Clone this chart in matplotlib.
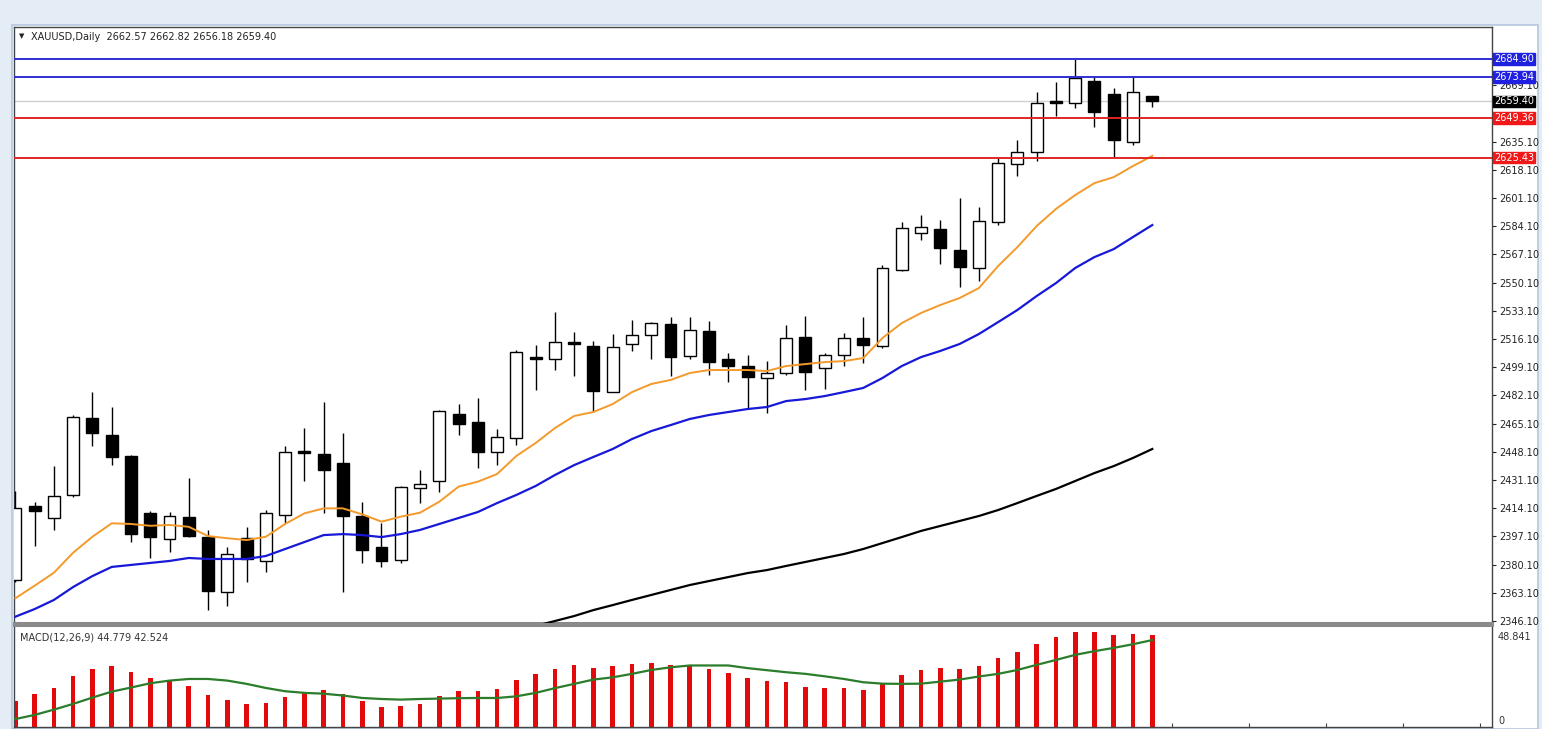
import numpy as np
import matplotlib.pyplot as plt
from matplotlib.patches import Rectangle
from matplotlib.transforms import blended_transform_factory

# --- daily candles XAUUSD ---
opens = [2370.8, 2415.4, 2408.0, 2422.0, 2468.6, 2458.0, 2445.6, 2411.0, 2395.7, 2409.0,
         2396.5, 2363.8, 2396.0, 2382.4, 2410.0, 2448.8, 2446.8, 2441.5, 2409.4, 2390.9,
         2382.9, 2426.4, 2430.7, 2470.9, 2466.2, 2448.0, 2456.6, 2505.4, 2503.8, 2514.5,
         2511.9, 2484.1, 2513.1, 2518.5, 2525.1, 2505.8, 2521.1, 2504.0, 2499.8, 2492.8,
         2495.8, 2517.1, 2498.4, 2506.4, 2516.5, 2511.9, 2557.7, 2580.2, 2582.2, 2569.7,
         2559.1, 2586.4, 2621.4, 2629.0, 2659.5, 2658.2, 2671.8, 2663.8, 2634.6, 2662.57]
highs = [2424.5, 2418.0, 2439.7, 2470.3, 2484.0, 2475.3, 2446.0, 2412.4, 2412.0, 2432.5,
         2401.0, 2390.9, 2402.9, 2413.0, 2451.6, 2462.6, 2478.3, 2459.2, 2418.0, 2405.0,
         2427.5, 2437.1, 2473.3, 2476.9, 2480.3, 2462.0, 2509.4, 2512.5, 2532.5, 2520.5,
         2515.0, 2519.1, 2527.5, 2526.5, 2529.5, 2529.5, 2527.1, 2507.8, 2506.4, 2503.0,
         2524.5, 2529.9, 2507.8, 2519.5, 2529.5, 2560.7, 2586.8, 2590.8, 2587.8, 2600.9,
         2595.5, 2626.0, 2636.0, 2665.2, 2671.2, 2684.9, 2673.9, 2667.2, 2674.6, 2662.82]
lows = [2369.5, 2391.3, 2401.0, 2421.0, 2451.6, 2440.1, 2393.5, 2383.9, 2387.9, 2396.9,
        2352.7, 2355.3, 2369.4, 2375.8, 2405.0, 2430.5, 2411.0, 2363.8, 2381.2, 2378.8,
        2381.2, 2417.0, 2424.0, 2458.2, 2438.1, 2440.0, 2452.0, 2485.3, 2497.4, 2493.8,
        2472.3, 2484.1, 2509.0, 2503.8, 2493.8, 2503.8, 2494.4, 2490.3, 2474.3, 2471.7,
        2494.4, 2485.3, 2485.8, 2499.8, 2501.4, 2510.5, 2557.3, 2575.8, 2561.3, 2547.2,
        2551.2, 2584.8, 2614.3, 2623.4, 2650.5, 2655.1, 2643.7, 2625.4, 2633.0, 2656.18]
closes = [2414.4, 2412.6, 2421.6, 2469.0, 2459.6, 2445.1, 2398.5, 2396.6, 2409.4, 2397.3,
          2364.4, 2386.5, 2383.5, 2411.4, 2448.2, 2447.2, 2437.1, 2409.4, 2388.9, 2382.3,
          2427.1, 2428.9, 2472.7, 2464.7, 2448.2, 2457.0, 2508.4, 2504.2, 2514.5, 2513.1,
          2484.9, 2511.4, 2518.5, 2525.6, 2505.0, 2521.5, 2502.4, 2499.8, 2493.4, 2495.8,
          2516.5, 2496.4, 2506.4, 2516.9, 2512.3, 2558.7, 2583.2, 2583.4, 2570.8, 2559.7,
          2587.4, 2622.0, 2629.0, 2658.2, 2658.2, 2673.2, 2653.1, 2636.0, 2664.8, 2659.40]

# moving averages (orange, blue, black)
ma_orange = [2359.8, 2367.4, 2375.2, 2387.3, 2396.9, 2405.0, 2404.6, 2403.5, 2404.0, 2402.9,
             2397.3, 2396.0, 2394.9, 2396.9, 2404.6, 2411.0, 2414.0, 2414.0, 2410.4, 2406.0,
             2409.0, 2411.4, 2418.0, 2427.1, 2430.1, 2434.7, 2445.6, 2453.4, 2462.4, 2469.7,
             2472.1, 2476.9, 2484.1, 2489.0, 2491.4, 2495.6, 2497.4, 2497.4, 2497.4, 2496.8,
             2499.8, 2501.0, 2502.2, 2502.8, 2504.6, 2516.7, 2525.7, 2531.8, 2536.6, 2540.8,
             2546.8, 2560.1, 2571.5, 2584.2, 2594.5, 2602.9, 2610.1, 2613.7, 2620.4, 2626.5]
ma_blue = [2348.7, 2353.3, 2358.8, 2366.6, 2373.2, 2378.7, 2379.9, 2381.1, 2382.3, 2384.1,
           2383.5, 2383.5, 2383.5, 2385.3, 2389.5, 2393.7, 2397.9, 2398.5, 2397.9, 2396.7,
           2398.5, 2401.0, 2404.6, 2408.2, 2411.8, 2417.2, 2422.1, 2427.5, 2434.1, 2440.1,
           2445.0, 2449.8, 2455.8, 2460.6, 2464.2, 2467.9, 2470.3, 2472.1, 2473.9, 2475.1,
           2478.7, 2479.9, 2481.7, 2484.1, 2486.6, 2492.6, 2499.8, 2505.2, 2508.9, 2513.1,
           2519.1, 2526.3, 2533.6, 2542.0, 2549.8, 2558.9, 2565.5, 2570.3, 2577.6, 2584.8]
ma_black_start = 27
ma_black = [2343.1, 2346.1, 2349.1, 2352.7, 2355.7, 2358.8, 2361.8, 2364.8, 2367.8, 2370.2,
            2372.6, 2375.0, 2376.8, 2379.3, 2381.7, 2384.1, 2386.5, 2389.5, 2393.1, 2396.7,
            2400.4, 2403.4, 2406.4, 2409.4, 2413.0, 2417.2, 2421.5, 2425.7, 2430.5, 2435.3,
            2439.5, 2444.4, 2449.8]

# MACD(12,26,9)
macd_hist = [12.9, 16.0, 19.0, 24.8, 28.6, 29.9, 27.0, 24.0, 22.4, 20.3,
             15.7, 13.4, 11.4, 11.9, 14.7, 17.0, 18.1, 16.2, 12.9, 9.6,
             10.5, 11.4, 15.2, 17.6, 17.6, 18.5, 23.2, 26.0, 28.6, 30.4,
             29.1, 29.9, 30.7, 31.5, 30.4, 29.9, 28.6, 26.6, 24.2, 22.4,
             21.9, 19.8, 19.0, 19.0, 18.1, 21.4, 25.2, 28.1, 28.9, 28.6,
             29.9, 33.7, 36.6, 40.7, 43.8, 46.6, 46.6, 44.9, 45.3, 44.779]
macd_signal = [3.9, 5.9, 8.5, 11.3, 14.4, 17.3, 19.3, 21.4, 22.7, 23.5,
               23.5, 22.7, 21.1, 19.1, 17.5, 16.7, 16.3, 15.4, 14.2, 13.7,
               13.4, 13.7, 13.9, 14.1, 14.2, 14.2, 15.0, 16.7, 19.0, 21.1,
               23.2, 24.3, 26.0, 27.9, 29.2, 30.1, 30.1, 30.1, 28.8, 27.8,
               26.8, 26.0, 24.8, 23.5, 21.9, 21.2, 21.1, 21.2, 22.2, 23.2,
               24.7, 26.0, 27.9, 30.4, 32.8, 35.3, 37.1, 38.7, 40.5, 42.524]

# horizontal levels
blue_levels = [2684.90, 2673.94]
red_levels = [2649.36, 2625.43]
bid = 2659.40
price_ticks = [2346.10 + 17 * k for k in range(20)]

W, H = 1542, 729
fig = plt.figure(figsize=(W / 100, H / 100), dpi=100, facecolor='#e4ecf6')


def fx(px):
    return px / W


def fy(py):
    return 1 - py / H


# white chart window (incl. price scale)
fig.patches.append(Rectangle((fx(12), fy(729)), fx(1526), (729 - 25) / H,
                             transform=fig.transFigure, facecolor='white',
                             edgecolor='#b4c6dd', lw=1.2, zorder=-5))

ax = fig.add_axes([fx(14), fy(623), fx(1492 - 14), (623 - 27) / H])
ax2 = fig.add_axes([fx(14), fy(727), fx(1492 - 14), (727 - 625) / H])
ax.set_zorder(2)
ax2.set_zorder(2)

o = np.array(opens)
h = np.array(highs)
l = np.array(lows)
c = np.array(closes)
x = np.arange(len(o))
up = c >= o

# candles
ax.vlines(x, l, h, color='black', lw=1.0, zorder=3)
body = np.maximum(np.abs(c - o), 0.9)
bottom = np.minimum(o, c)
ax.bar(x[up], body[up], bottom=bottom[up], width=0.62, facecolor='white',
       edgecolor='black', lw=1.0, zorder=4)
ax.bar(x[~up], body[~up], bottom=bottom[~up], width=0.62, facecolor='black',
       edgecolor='black', lw=1.0, zorder=4)

# moving averages
ax.plot(x, ma_orange, color='#f39a2a', lw=1.4, zorder=5)
ax.plot(x, ma_blue, color='#1818d8', lw=1.6, zorder=5)
xb = np.arange(ma_black_start, ma_black_start + len(ma_black))
ax.plot(xb, ma_black, color='black', lw=1.6, zorder=5)

# levels
for v in blue_levels:
    ax.axhline(v, color='#2e2ed6', lw=1.4, zorder=6)
for v in red_levels:
    ax.axhline(v, color='#e02626', lw=1.4, zorder=6)
ax.axhline(bid, color='#cfcfcf', lw=1.0, zorder=1)

ax.set_xlim(-0.07, 76.63)
ax.set_ylim(2344.9, 2704.2)
ax.yaxis.tick_right()
ax.set_yticks(price_ticks)
ax.set_yticklabels(['' if abs(t - 2652.10) < 0.01 else '%.2f' % t for t in price_ticks])
ax.tick_params(axis='y', length=3, width=0.8, pad=2, labelsize=7, colors='#222222')
ax.tick_params(axis='x', bottom=False, labelbottom=False)
for s in ax.spines.values():
    s.set_color('#444444')
    s.set_linewidth(1.0)
ax.spines['bottom'].set_color('#8a8a8a')
ax.spines['bottom'].set_linewidth(2.2)

# price boxes on the scale
trans = blended_transform_factory(ax.transAxes, ax.transData)
box_labels = [(2684.90, '#2020e0'), (2673.94, '#2020e0'), (bid, 'black'),
              (2649.36, '#f01818'), (2625.43, '#f01818')]
for v, col in box_labels:
    ax.text(1.0015, v, '%.2f' % v, transform=trans, ha='left', va='center',
            fontsize=7, color='white', clip_on=False, zorder=10,
            bbox=dict(boxstyle='square,pad=0.08', fc=col, ec=col))

ax.text(0.0035, 0.990, '\u25BC', transform=ax.transAxes, fontsize=5, va='top',
        ha='left', color='#222222')
ax.text(0.0115, 0.992, 'XAUUSD,Daily  2662.57 2662.82 2656.18 2659.40',
        transform=ax.transAxes, fontsize=7, va='top', ha='left', color='#222222')

# MACD panel
ax2.bar(x, macd_hist, width=0.24, color='#e20a0a', zorder=2)
ax2.plot(x, macd_signal, color='#2b7d2b', lw=1.6, zorder=3)
ax2.set_xlim(-0.07, 76.63)
ax2.set_ylim(0, 49.9)
ax2.set_yticks([])
ax2.set_xticks(np.arange(0, 77, 4))
ax2.tick_params(axis='x', direction='in', length=3, labelbottom=False, color='#444444')
for s in ax2.spines.values():
    s.set_color('#444444')
    s.set_linewidth(1.0)
ax2.spines['top'].set_color('#8a8a8a')
ax2.spines['top'].set_linewidth(2.2)
ax2.text(0.004, 0.93, 'MACD(12,26,9) 44.779 42.524', transform=ax2.transAxes,
         fontsize=7, va='top', ha='left', color='#333333')
ax2.text(1.004, 0.93, '48.841', transform=ax2.transAxes, fontsize=7, va='top',
         ha='left', color='#333333', clip_on=False)
ax2.text(1.004, 0.06, '0', transform=ax2.transAxes, fontsize=7, va='center',
         ha='left', color='#333333', clip_on=False)

fig.savefig('out.png', dpi=100, facecolor=fig.get_facecolor())
